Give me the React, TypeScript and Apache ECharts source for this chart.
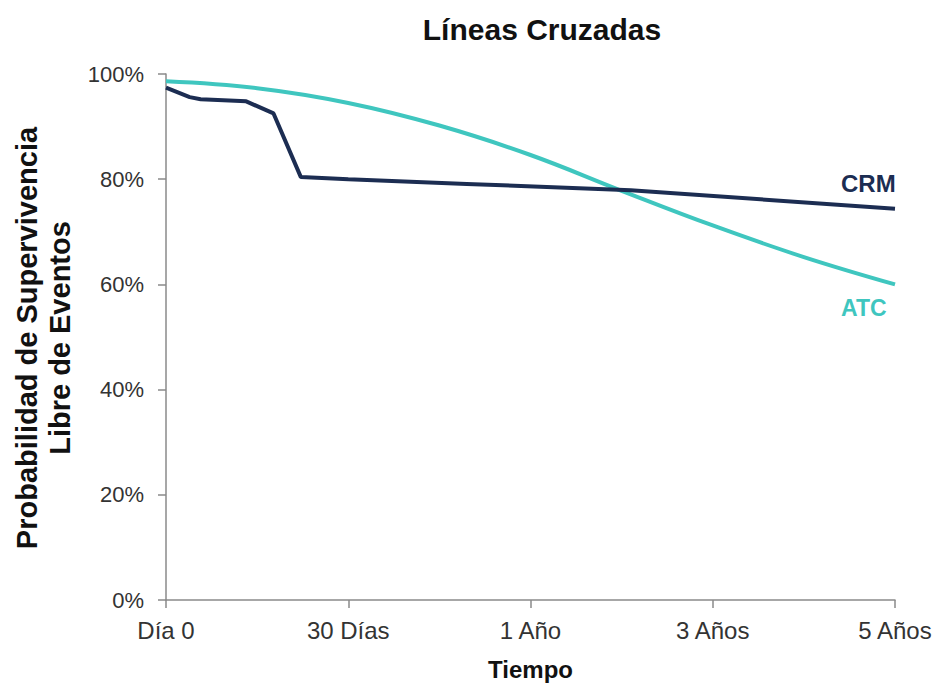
import React, { useEffect, useRef } from "react";
import * as echarts from "echarts";

const xTickLabels = ["Día 0", "30 Días", "1 Año", "3 Años", "5 Años"];
const crmX = [0, 0.13, 0.19, 0.44, 0.59, 0.74, 1.0, 1.65, 2.55, 4.0];
const crmY = [97.4, 95.6, 95.2, 94.8, 92.5, 80.4, 80.0, 79.1, 77.9, 74.4];
const atcX = [0, 0.5, 1.0, 1.5, 2.0, 2.5, 3.0, 3.5, 4.0];
const atcY = [98.6, 97.3, 94.5, 90.2, 84.6, 77.8, 71.2, 65.2, 60.0];

const NAVY = "#1c2d52";
const TEAL = "#3fc6bf";
const FONT = "'Liberation Sans', Arial, Helvetica, sans-serif";

export default function App() {
  const ref = useRef<HTMLDivElement>(null);
  useEffect(() => {
    if (!ref.current) return;
    const chart = echarts.init(ref.current, undefined, { renderer: "svg" });
    chart.setOption({
      animation: false,
      backgroundColor: "#ffffff",
      textStyle: { fontFamily: FONT },
      title: {
        text: "Líneas Cruzadas",
        left: 537,
        top: 9,
        textAlign: "center",
        textStyle: { fontFamily: FONT, fontSize: 30, fontWeight: "bold", color: "#111" },
      },
      grid: { left: 166, right: 43, top: 74, bottom: 80, containLabel: false },
      xAxis: {
        type: "value",
        min: 0,
        max: 4,
        interval: 1,
        name: "Tiempo",
        nameLocation: "middle",
        nameGap: 57,
        nameTextStyle: { fontFamily: FONT, fontSize: 24, fontWeight: "bold", color: "#111" },
        axisLine: { show: true, lineStyle: { color: "#8a8a8a", width: 1.5 } },
        axisTick: { show: true, length: 8, lineStyle: { color: "#8a8a8a", width: 1.5 } },
        splitLine: { show: false },
        axisLabel: {
          margin: 18,
          fontFamily: FONT,
          fontSize: 24,
          color: "#333",
          formatter: (v: number) => xTickLabels[Math.round(v)] ?? "",
        },
      },
      yAxis: {
        type: "value",
        min: 0,
        max: 100,
        interval: 20,
        axisLine: { show: true, lineStyle: { color: "#8a8a8a", width: 1.5 } },
        axisTick: { show: true, length: 8, lineStyle: { color: "#8a8a8a", width: 1.5 } },
        splitLine: { show: false },
        axisLabel: { margin: 22, fontFamily: FONT, fontSize: 22, color: "#333", formatter: "{value}%" },
      },
      graphic: [
        {
          type: "text",
          x: 43,
          y: 338,
          rotation: Math.PI / 2,
          style: {
            text: "Probabilidad de Supervivencia\nLibre de Eventos",
            fontFamily: FONT,
            fontSize: 29,
            fontWeight: "bold",
            fill: "#111",
            align: "center",
            verticalAlign: "middle",
            lineHeight: 33,
          },
        },
      ],
      series: [
        {
          type: "line",
          name: "ATC",
          data: atcX.map((x, i) => [x, atcY[i]]),
          smooth: 0.4,
          showSymbol: false,
          lineStyle: { color: TEAL, width: 4 },
          endLabel: {
            show: true,
            formatter: "ATC",
            offset: [-62, 24],
            fontFamily: FONT,
            fontSize: 23,
            fontWeight: "bold",
            color: TEAL,
          },
        },
        {
          type: "line",
          name: "CRM",
          data: crmX.map((x, i) => [x, crmY[i]]),
          smooth: false,
          showSymbol: false,
          lineStyle: { color: NAVY, width: 4 },
          endLabel: {
            show: true,
            formatter: "CRM",
            offset: [-62, -25],
            fontFamily: FONT,
            fontSize: 24,
            fontWeight: "bold",
            color: NAVY,
          },
        },
      ],
    });
    return () => chart.dispose();
  }, []);
  return <div ref={ref} style={{ position: "absolute", left: 0, top: 0, width: 938, height: 686 }} />;
}
